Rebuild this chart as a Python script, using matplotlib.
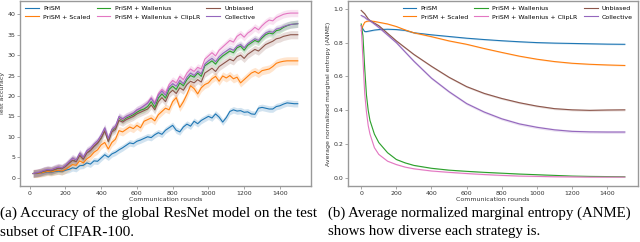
import matplotlib.pyplot as plt
import numpy as np

# ---- accuracy (left panel) ----
acc_rounds = list(range(20, 1501, 20))

acc_prism = [1.0, 1.0, 1.1, 1.2, 1.4, 1.3, 1.5, 1.6, 1.5, 1.8,
             2.0, 2.4, 2.2, 2.9, 3.0, 3.6, 3.3, 4.1, 4.0, 4.8,
             5.6, 5.0, 5.8, 6.2, 6.8, 7.3, 7.9, 8.5, 8.3, 8.9,
             9.2, 9.6, 10.0, 9.8, 10.5, 11.0, 10.6, 11.6, 12.2, 12.8,
             11.6, 11.2, 12.4, 13.1, 12.6, 13.8, 13.2, 14.0, 14.5, 15.0,
             14.6, 15.6, 14.8, 13.6, 14.7, 16.2, 16.6, 16.3, 16.4, 16.0,
             16.1, 15.6, 15.5, 17.0, 17.2, 17.0, 16.8, 16.8, 17.4, 17.6,
             18.0, 18.3, 18.2, 18.1, 18.1]
acc_scaled = [1.0, 1.0, 1.1, 1.3, 1.5, 1.4, 1.6, 1.8, 1.6, 2.0,
              2.6, 3.2, 3.0, 4.1, 3.6, 4.6, 5.2, 6.2, 6.8, 8.0,
              8.6, 7.0, 8.6, 9.4, 11.5, 11.2, 11.8, 12.4, 12.0, 12.8,
              12.2, 13.8, 14.2, 14.6, 13.9, 15.4, 16.2, 17.0, 16.6, 18.6,
              19.6, 17.2, 18.6, 20.4, 22.5, 21.8, 20.5, 22.0, 22.8, 23.2,
              24.2, 24.8, 23.6, 24.9, 24.4, 25.0, 24.2, 24.6, 23.2, 24.0,
              24.8, 25.6, 26.0, 25.5, 26.2, 26.4, 26.6, 27.2, 28.0, 28.3,
              28.5, 28.6, 28.6, 28.6, 28.6]
acc_wallenius = [1.0, 1.1, 1.3, 1.6, 1.8, 1.7, 2.0, 2.3, 2.2, 2.8,
                 3.6, 4.4, 4.0, 5.6, 4.6, 6.2, 6.8, 7.8, 8.6, 9.8,
                 11.8, 9.0, 11.6, 12.2, 14.6, 14.0, 14.6, 15.0, 15.4, 16.0,
                 16.5, 16.8, 17.4, 18.6, 17.2, 19.5, 20.5, 19.5, 21.6, 22.4,
                 21.6, 23.2, 22.5, 24.0, 25.0, 24.6, 25.6, 24.8, 27.4, 28.0,
                 28.6, 27.8, 29.0, 29.8, 30.4, 31.0, 30.6, 31.8, 32.2, 31.2,
                 32.4, 33.0, 33.6, 33.2, 34.2, 35.0, 35.4, 35.2, 36.0, 36.2,
                 36.8, 37.2, 37.5, 37.6, 37.7]
acc_cliplr = [1.0, 1.2, 1.4, 1.7, 1.9, 1.8, 2.2, 2.5, 2.3, 2.9,
              3.8, 4.6, 4.2, 5.8, 4.9, 6.4, 7.0, 8.0, 8.8, 10.2,
              12.0, 9.4, 11.8, 12.4, 14.8, 14.2, 14.9, 15.3, 15.8, 16.5,
              17.0, 17.6, 18.4, 19.6, 18.4, 20.6, 21.6, 20.8, 22.8, 23.8,
              23.2, 24.8, 24.0, 25.6, 26.6, 26.0, 27.0, 26.6, 29.0, 29.8,
              30.6, 29.8, 31.2, 32.0, 32.8, 33.6, 33.2, 34.6, 35.2, 34.4,
              35.4, 36.0, 36.8, 36.2, 37.2, 38.0, 38.6, 38.4, 39.2, 39.6,
              40.0, 40.2, 40.3, 40.3, 40.3]
acc_unbiased = [1.0, 1.1, 1.3, 1.6, 1.8, 1.7, 2.0, 2.3, 2.2, 2.7,
                3.5, 4.2, 3.9, 5.4, 4.5, 6.0, 6.6, 7.6, 8.4, 9.6,
                11.4, 8.8, 11.2, 11.8, 14.0, 13.6, 14.2, 14.6, 15.0, 15.6,
                16.0, 16.4, 16.8, 17.8, 16.6, 18.6, 19.6, 18.6, 20.6, 21.4,
                20.6, 22.0, 21.4, 22.8, 23.6, 23.2, 24.0, 23.4, 25.6, 26.2,
                26.8, 26.0, 27.2, 27.8, 28.4, 29.0, 28.6, 29.6, 30.0, 29.2,
                30.2, 30.8, 31.4, 31.0, 31.8, 32.6, 33.0, 33.4, 34.0, 34.2,
                34.6, 34.8, 35.0, 35.0, 35.0]
acc_collective = [1.0, 1.2, 1.4, 1.8, 2.0, 1.9, 2.3, 2.6, 2.4, 3.0,
                  3.9, 4.8, 4.3, 6.0, 5.0, 6.6, 7.2, 8.2, 9.0, 10.4,
                  12.2, 9.6, 11.8, 12.6, 15.0, 14.4, 15.0, 15.4, 15.8, 16.6,
                  17.0, 17.6, 18.2, 19.4, 18.0, 20.2, 21.2, 20.2, 22.2, 23.0,
                  22.4, 23.8, 23.0, 24.6, 25.6, 25.0, 26.0, 25.4, 27.8, 28.6,
                  29.2, 28.4, 29.6, 30.4, 31.0, 31.6, 31.2, 32.2, 32.6, 31.8,
                  32.8, 33.4, 34.0, 33.6, 34.6, 35.4, 35.8, 35.6, 36.4, 36.6,
                  37.0, 37.3, 37.5, 37.6, 37.7]
# rough half-width of the shaded band for each strategy
acc_spread = [0.8, 1.0, 0.9, 0.9, 1.0, 0.9]

# ---- ANME (right panel) ----
ent_rounds = [0, 10, 20, 30, 40, 50, 75, 100, 150, 200, 250, 300, 400, 500,
              600, 700, 800, 900, 1000, 1100, 1200, 1300, 1400, 1500]
ent_prism = [0.90, 0.88, 0.865, 0.865, 0.867, 0.869, 0.874, 0.877, 0.879, 0.877,
             0.872, 0.858, 0.846, 0.836, 0.826, 0.818, 0.811, 0.805, 0.800,
             0.797, 0.795, 0.793, 0.791, 0.790]
ent_scaled = [0.87, 0.90, 0.92, 0.925, 0.927, 0.928, 0.925, 0.92, 0.91, 0.895,
              0.875, 0.858, 0.835, 0.81, 0.79, 0.765, 0.742, 0.72, 0.702,
              0.688, 0.678, 0.672, 0.668, 0.665]
ent_wallenius = [0.91, 0.84, 0.65, 0.49, 0.40, 0.34, 0.26, 0.21, 0.15, 0.11,
                 0.09, 0.075, 0.058, 0.047, 0.04, 0.034, 0.029, 0.024, 0.02,
                 0.016, 0.012, 0.010, 0.009, 0.008]
ent_cliplr = [0.90, 0.70, 0.50, 0.39, 0.31, 0.26, 0.18, 0.14, 0.10, 0.08,
              0.065, 0.055, 0.042, 0.034, 0.027, 0.021, 0.016, 0.012, 0.010,
              0.008, 0.007, 0.006, 0.006, 0.006]
ent_unbiased = [0.99, 0.98, 0.97, 0.955, 0.94, 0.93, 0.915, 0.90, 0.855, 0.81,
                0.77, 0.73, 0.66, 0.595, 0.54, 0.50, 0.47, 0.445, 0.425,
                0.41, 0.403, 0.40, 0.402, 0.403]
ent_collective = [0.96, 0.955, 0.95, 0.94, 0.935, 0.93, 0.91, 0.89, 0.845, 0.80,
                  0.745, 0.69, 0.59, 0.51, 0.44, 0.39, 0.35, 0.32, 0.30,
                  0.285, 0.276, 0.273, 0.272, 0.272]
ent_spread = [0.004, 0.004, 0.003, 0.003, 0.006, 0.008]

labels = ['PriSM', 'PriSM + Scaled', 'PriSM + Wallenius',
          'PriSM + Wallenius + ClipLR', 'Unbiased', 'Collective']
colors = ['tab:blue', 'tab:orange', 'tab:green', 'tab:pink', 'tab:brown', 'tab:purple']

acc_series = [acc_prism, acc_scaled, acc_wallenius, acc_cliplr, acc_unbiased, acc_collective]
ent_series = [ent_prism, ent_scaled, ent_wallenius, ent_cliplr, ent_unbiased, ent_collective]

FS = 4.5

fig = plt.figure(figsize=(6.4, 2.42), dpi=100)
ax1 = fig.add_axes([20 / 640, 1 - 186 / 242, 291 / 640, 185 / 242])
ax2 = fig.add_axes([348 / 640, 1 - 186 / 242, 290 / 640, 185 / 242])


def style(ax):
    for s in ax.spines.values():
        s.set_color('#999999')
        s.set_linewidth(1.0)
    ax.tick_params(labelsize=FS, colors='#999999', labelcolor='#333333',
                   length=2, width=0.6, pad=1.5)


leg_kw = dict(ncol=3, fontsize=FS, frameon=False, handlelength=2.2,
              handletextpad=0.7, columnspacing=1.0, borderaxespad=0.4,
              labelspacing=0.45)

for vals, spread, lab, c in zip(acc_series, acc_spread, labels, colors):
    v = np.array(vals)
    ax1.fill_between(acc_rounds, v - spread, v + spread, color=c, alpha=0.2, lw=0)
    ax1.plot(acc_rounds, v, color=c, lw=0.8, label=lab)
ax1.set_xticks(range(0, 1401, 200))
ax1.set_yticks(range(0, 41, 5))
ax1.set_xlabel('Communication rounds', fontsize=FS, labelpad=1, color='#333333')
ax1.set_ylabel('Test accuracy', fontsize=FS, labelpad=1.5, color='#333333')
style(ax1)
ax1.legend(loc='upper left', **leg_kw)

for vals, spread, lab, c in zip(ent_series, ent_spread, labels, colors):
    v = np.array(vals)
    ax2.fill_between(ent_rounds, v - spread, v + spread, color=c, alpha=0.2, lw=0)
    ax2.plot(ent_rounds, v, color=c, lw=0.8, label=lab)
ax2.set_xticks(range(0, 1401, 200))
ax2.set_yticks([0.0, 0.2, 0.4, 0.6, 0.8, 1.0])
ax2.set_xlabel('Communication rounds', fontsize=FS, labelpad=1, color='#333333')
ax2.set_ylabel('Average normalized marginal entropy (ANME)', fontsize=FS,
               labelpad=1.5, color='#333333')
style(ax2)
ax2.legend(loc='upper right', **leg_kw)

cap = dict(fontsize=11, family='Liberation Serif', ha='left', va='center')
fig.text(0 / 640, 1 - 213 / 242, '(a) Accuracy of the global ResNet model on the test', **cap)
fig.text(0 / 640, 1 - 232 / 242, 'subset of CIFAR-100.', **cap)
cap['fontsize'] = 10.7
fig.text(328 / 640, 1 - 213 / 242, '(b) Average normalized marginal entropy (ANME)', **cap)
fig.text(328 / 640, 1 - 232 / 242, 'shows how diverse each strategy is.', **cap)

fig.savefig('out.png', dpi=100)
